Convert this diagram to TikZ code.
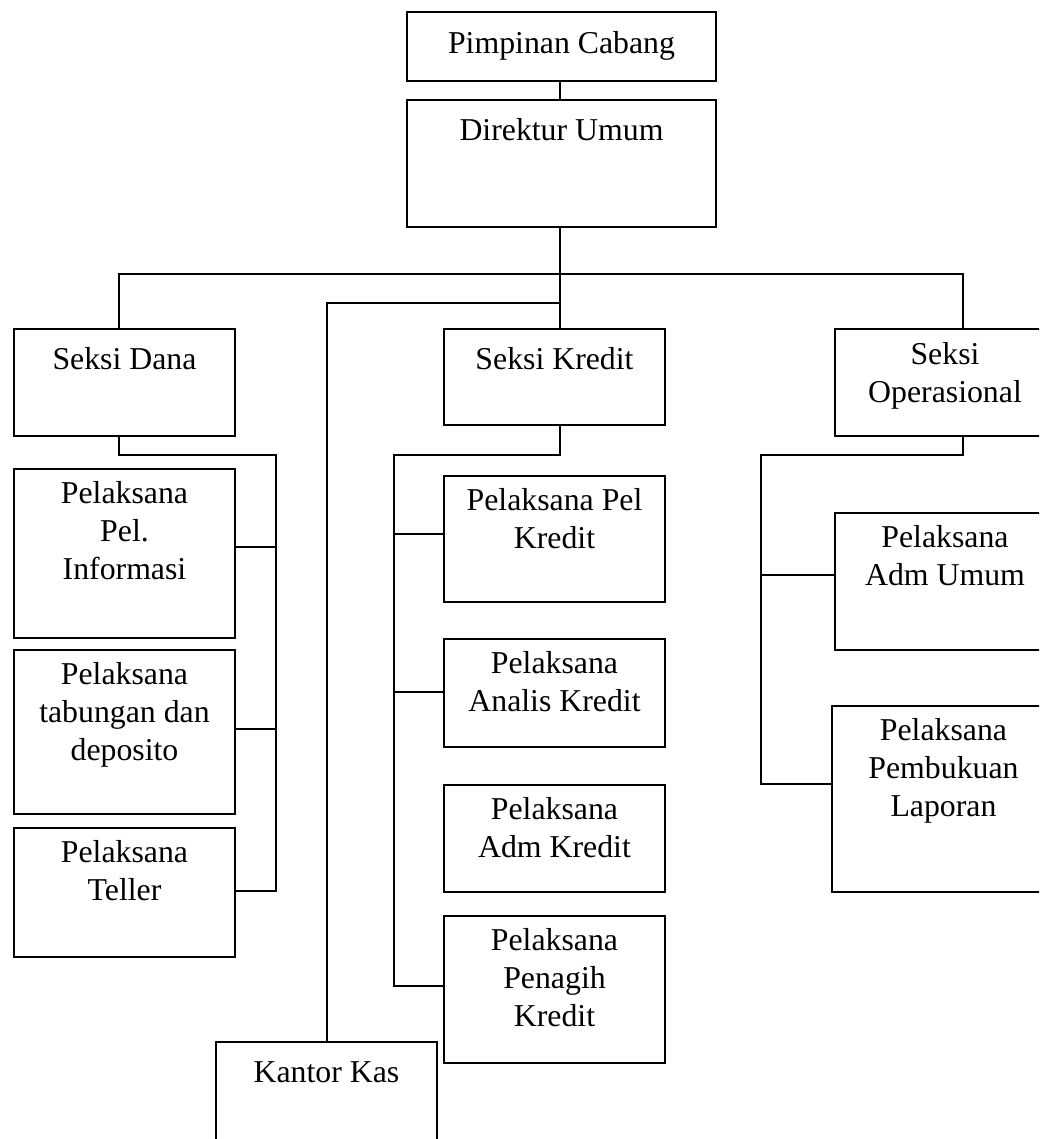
\documentclass[tikz,border=0pt]{standalone}
\usepackage{fontspec}
\setmainfont{Liberation Serif}
\begin{document}
\begin{tikzpicture}[x=1pt,y=-1pt,
  box/.style={draw, line width=2pt, anchor=north west, inner sep=0pt, outer sep=0pt},
  lbl/.style={anchor=north, inner sep=0pt, align=center,
    font=\fontsize{31.8}{37.7}\selectfont, execute at begin node=\strut},
  con/.style={line width=2pt, line join=miter}]
\clip (0,0) rectangle (1039,1139);
\fill[white] (0,0) rectangle (1039,1139);
% boxes
\node[box, minimum width=309pt, minimum height=69pt] (pc) at (407,12) {};
\node[box, minimum width=309pt, minimum height=127pt] (du) at (407,100) {};
\node[box, minimum width=221pt, minimum height=107pt] (sd) at (14,329) {};
\node[box, minimum width=221pt, minimum height=96pt] (sk) at (444,329) {};
\node[box, minimum width=220pt, minimum height=107pt] (so) at (835,329) {};
\node[box, minimum width=221pt, minimum height=169pt] (pi) at (14,469) {};
\node[box, minimum width=221pt, minimum height=164pt] (pt) at (14,650) {};
\node[box, minimum width=221pt, minimum height=129pt] (pte) at (14,828) {};
\node[box, minimum width=221pt, minimum height=126pt] (pk) at (444,476) {};
\node[box, minimum width=221pt, minimum height=108pt] (pa) at (444,639) {};
\node[box, minimum width=221pt, minimum height=107pt] (pad) at (444,785) {};
\node[box, minimum width=221pt, minimum height=147pt] (pp) at (444,916) {};
\node[box, minimum width=220pt, minimum height=137pt] (pu) at (835,513) {};
\node[box, minimum width=223pt, minimum height=186pt] (pl) at (832,706) {};
\node[box, minimum width=221pt, minimum height=130pt] (kk) at (216,1042) {};
% labels
\node[lbl] (pcl) at ([yshift=-14.6pt]pc.north) {Pimpinan Cabang};
\node[lbl] (dul) at ([yshift=-13.6pt]du.north) {Direktur Umum};
\node[lbl] (sdl) at ([yshift=-13.6pt]sd.north) {Seksi Dana};
\node[lbl] (skl) at ([yshift=-13.6pt]sk.north) {Seksi Kredit};
\node[lbl] (sol) at ([yshift=-13.6pt]so.north) {Seksi\\Operasional};
\node[lbl] (pil) at ([yshift=-12.6pt]pi.north) {Pelaksana\\Pel.\\Informasi};
\node[lbl] (ptl) at ([yshift=-12.6pt]pt.north) {Pelaksana\\tabungan dan\\deposito};
\node[lbl] (ptel) at ([yshift=-12.6pt]pte.north) {Pelaksana\\Teller};
\node[lbl] (pkl) at ([yshift=-12.6pt]pk.north) {Pelaksana Pel\\Kredit};
\node[lbl] (pal) at ([yshift=-12.6pt]pa.north) {Pelaksana\\Analis Kredit};
\node[lbl] (padl) at ([yshift=-12.6pt]pad.north) {Pelaksana\\Adm Kredit};
\node[lbl] (ppl) at ([yshift=-12.6pt]pp.north) {Pelaksana\\Penagih\\Kredit};
\node[lbl] (pul) at ([yshift=-12.6pt]pu.north) {Pelaksana\\Adm Umum};
\node[lbl] (pll) at ([yshift=-12.6pt]pl.north) {Pelaksana\\Pembukuan\\Laporan};
\node[lbl] (kkl) at ([yshift=-13.6pt]kk.north) {Kantor Kas};
% junction coordinates
\coordinate (j1) at (560,274);
\coordinate (jl) at (119,274);
\coordinate (jr) at (963,274);
\coordinate (j2) at (560,303);
\coordinate (j2l) at (326.5,303);
\coordinate (d1) at (119,455);
\coordinate (d2) at (276,455);
\coordinate (k1) at (560,455);
\coordinate (k2) at (394,455);
\coordinate (o1) at (963,455);
\coordinate (o2) at (761,455);
% connectors
\draw[con] (pc.south -| j1) -- (du.north -| j1);
\draw[con] (du.south -| j1) -- (j1);
\draw[con] (jl |- sd.north) -- (jl) -- (jr) -- (jr |- so.north);
\draw[con] (j1) -- (j1 |- sk.north);
\draw[con] (j2) -- (j2l) -- (j2l |- kk.north);
% Seksi Dana branch
\draw[con] (d1 |- sd.south) -- (d1) -- (d2) -- (d2 |- 0,891) -- (pte.east |- 0,891);
\draw[con] (pi.east |- 0,547) -- (d2 |- 0,547);
\draw[con] (pt.east |- 0,729) -- (d2 |- 0,729);
% Seksi Kredit branch
\draw[con] (k1 |- sk.south) -- (k1) -- (k2) -- (k2 |- 0,986) -- (pp.west |- 0,986);
\draw[con] (k2 |- 0,534) -- (pk.west |- 0,534);
\draw[con] (k2 |- 0,692) -- (pa.west |- 0,692);
% Seksi Operasional branch
\draw[con] (o1 |- so.south) -- (o1) -- (o2) -- (o2 |- 0,784) -- (pl.west |- 0,784);
\draw[con] (o2 |- 0,575) -- (pu.west |- 0,575);
\end{tikzpicture}
\end{document}
